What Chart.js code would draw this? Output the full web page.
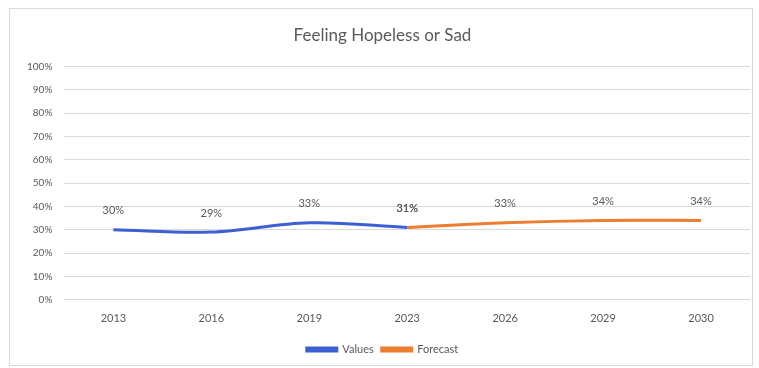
<!DOCTYPE html>
<html lang="en">
<head>
    <meta charset="UTF-8">
    <title>Feeling Hopeless or Sad</title>
    <style>
        html, body {
            margin: 0;
            padding: 0;
            background-color: #ffffff;
        }
        .chart-box {
            position: absolute;
            left: 9px;
            top: 8px;
            width: 742px;
            height: 356px;
            border: 1px solid #d9d9d9;
            background-color: #ffffff;
        }
        #chart {
            position: absolute;
            left: 0;
            top: 0;
        }
    </style>
    <script src="https://cdn.jsdelivr.net/npm/chart.js"></script>
</head>
<body>
    <div class="chart-box">
        <canvas id="chart" width="742" height="356"></canvas>
    </div>

    <script>
        const years = ['2013', '2016', '2019', '2023', '2026', '2029', '2030'];
        const actualValues = [30, 29, 33, 31, null, null, null];
        const forecastValues = [null, null, null, 31, 33, 34, 34];
        const yTicks = [0, 10, 20, 30, 40, 50, 60, 70, 80, 90, 100];

        const textColor = '#595959';
        const gridColor = '#d9d9d9';
        const fontFamily = 'Lato, "Open Sans", sans-serif';

        // draw the percentage above each point
        const pointLabels = {
            id: 'pointLabels',
            afterDatasetsDraw(chart) {
                const ctx = chart.ctx;
                ctx.save();
                ctx.font = '11px ' + fontFamily;
                ctx.fillStyle = textColor;
                ctx.textAlign = 'center';
                ctx.textBaseline = 'middle';
                chart.data.datasets.forEach((ds, i) => {
                    const meta = chart.getDatasetMeta(i);
                    meta.data.forEach((pt, j) => {
                        if (ds.data[j] === null) return;
                        ctx.fillText(ds.data[j] + '%', pt.x, pt.y - 19);
                    });
                });
                ctx.restore();
            }
        };

        const ctx = document.getElementById('chart').getContext('2d');
        const chart = new Chart(ctx, {
            type: 'line',
            data: {
                labels: years,
                datasets: [{
                    label: 'Values',
                    data: actualValues,
                    borderColor: '#3d5fd1',
                    backgroundColor: '#3d5fd1',
                    borderWidth: 3,
                    tension: 0.35,
                    pointRadius: 0,
                    fill: false
                }, {
                    label: 'Forecast',
                    data: forecastValues,
                    borderColor: '#ed7d31',
                    backgroundColor: '#ed7d31',
                    borderWidth: 3,
                    tension: 0.35,
                    pointRadius: 0,
                    fill: false
                }]
            },
            options: {
                responsive: false,
                animation: false,
                layout: {
                    padding: { left: 5, right: 2, top: 0, bottom: 0 }
                },
                plugins: {
                    title: {
                        display: true,
                        text: 'Feeling Hopeless or Sad',
                        color: textColor,
                        font: { family: fontFamily, size: 17, weight: 'normal' },
                        padding: { top: 16, bottom: 21 }
                    },
                    legend: {
                        position: 'bottom',
                        labels: {
                            color: textColor,
                            font: { family: fontFamily, size: 11 },
                            boxWidth: 30,
                            boxHeight: 3,
                            padding: 8
                        }
                    },
                    tooltip: { enabled: false }
                },
                scales: {
                    x: {
                        offset: true,
                        grid: { display: false },
                        border: { display: false },
                        afterFit: axis => {
                            axis.height += 7;
                        },
                        ticks: {
                            color: textColor,
                            font: { family: fontFamily, size: 11 },
                            padding: 4
                        }
                    },
                    y: {
                        min: 0,
                        max: 100,
                        afterBuildTicks: axis => {
                            axis.ticks = yTicks.map(v => ({ value: v }));
                        },
                        grid: { color: gridColor, drawTicks: false },
                        border: { display: false },
                        ticks: {
                            color: textColor,
                            font: { family: fontFamily, size: 10 },
                            padding: 12,
                            callback: v => v + '%'
                        }
                    }
                }
            },
            plugins: [pointLabels]
        });
    </script>
</body>
</html>
